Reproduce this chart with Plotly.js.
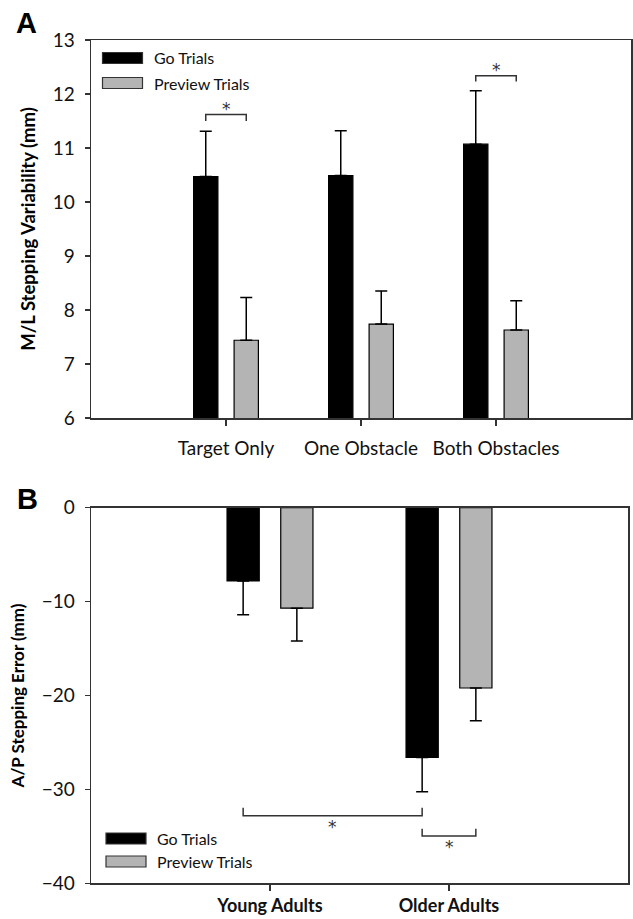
<!DOCTYPE html>
<html>
<head>
<meta charset="utf-8">
<script src="https://cdn.plot.ly/plotly-3.0.1.min.js"></script>
<style>html,body{margin:0;padding:0;background:#fff;}#chart{width:633px;height:919px;}</style>
</head>
<body>
<div id="chart"></div>
<script>
// ---- Data ----
const categoriesA = ['Target Only', 'One Obstacle', 'Both Obstacles'];
const goA = [10.47, 10.49, 11.07];
const goAErr = [0.84, 0.83, 0.99];
const previewA = [7.44, 7.74, 7.63];
const previewAErr = [0.79, 0.61, 0.54];

const categoriesB = ['Young Adults', 'Older Adults'];
const goB = [-7.8, -26.6];
const goBErr = [3.6, 3.65];
const previewB = [-10.7, -19.2];
const previewBErr = [3.5, 3.5];

const seriesNames = ['Go Trials', 'Preview Trials'];
const yTicksA = [6, 7, 8, 9, 10, 11, 12, 13];
const yTicksB = [-40, -30, -20, -10, 0];

// ---- Styling ----
const W = 633, H = 919;
const FONT = 'Lato, "Open Sans", sans-serif';
const BLACK = '#000000', GREY = '#b4b4b4', AXIS = '#333333';
const px = x => x / W;
const py = y => 1 - y / H;
const zeros = n => new Array(n).fill(0);

function barTrace(x, y, up, down, color, name, xa, ya) {
  return {
    type: 'bar', x: x, y: y, name: name, xaxis: xa, yaxis: ya,
    marker: {color: color, line: {color: '#000', width: 1.2}},
    error_y: {type: 'data', symmetric: false, array: up, arrayminus: down,
              color: '#000', thickness: 1.5, width: 6},
    showlegend: false, hoverinfo: 'skip'
  };
}

const data = [
  barTrace(categoriesA, goA, goAErr, zeros(goA.length), BLACK, seriesNames[0], 'x', 'y'),
  barTrace(categoriesA, previewA, previewAErr, zeros(previewA.length), GREY, seriesNames[1], 'x', 'y'),
  barTrace(categoriesB, goB, zeros(goB.length), goBErr, BLACK, seriesNames[0], 'x2', 'y2'),
  barTrace(categoriesB, previewB, zeros(previewB.length), previewBErr, GREY, seriesNames[1], 'x2', 'y2')
];

const axisCommon = {
  showline: true, linecolor: AXIS, linewidth: 1.5, mirror: true,
  ticks: 'outside', ticklen: 6, tickwidth: 1.5, tickcolor: AXIS,
  showgrid: false, zeroline: false, fixedrange: true,
  tickfont: {family: FONT, size: 19, color: '#111'}
};

const layout = {
  width: W, height: H,
  margin: {l: 0, r: 0, t: 0, b: 0},
  paper_bgcolor: '#fff', plot_bgcolor: '#fff',
  barmode: 'group', bargap: 0.4, bargroupgap: 0.4,
  showlegend: false,
  xaxis: Object.assign({}, axisCommon, {
    domain: [px(91), px(631)], anchor: 'y', type: 'category', range: [-1, 3],
    ticklabelstandoff: 7,
    tickfont: {family: FONT, size: 19, color: '#111'}
  }),
  yaxis: Object.assign({}, axisCommon, {
    domain: [py(418), py(40)], anchor: 'x', range: [6, 13],
    tickvals: yTicksA, ticklen: 5, ticklabelstandoff: 6,
    title: {text: 'M/L Stepping Variability (mm)', font: {family: FONT, size: 18.5, color: '#000', weight: 'bold'}, standoff: 12}
  }),
  xaxis2: Object.assign({}, axisCommon, {
    domain: [px(91), px(628)], anchor: 'y2', type: 'category', range: [-1, 2],
    ticklabelstandoff: 0,
    tickfont: {family: FONT, size: 18, color: '#111', weight: 'bold'}
  }),
  yaxis2: Object.assign({}, axisCommon, {
    domain: [py(883.3), py(507.7)], anchor: 'x2', range: [-40, 0],
    tickvals: yTicksB, ticklen: 5, ticklabelstandoff: 6,
    title: {text: 'A/P Stepping Error (mm)', font: {family: FONT, size: 17, color: '#000', weight: 'bold'}, standoff: 12}
  }),
  shapes: [],
  annotations: []
};

function bracket(xa, ya, x0, x1, yLine, yLeg) {
  layout.shapes.push({type: 'path', xref: xa, yref: ya,
    path: `M ${x0} ${yLeg} L ${x0} ${yLine} L ${x1} ${yLine} L ${x1} ${yLeg}`,
    line: {color: '#333', width: 1.5}});
}
function star(xa, ya, x, y, anchor, shift) {
  layout.annotations.push({xref: xa, yref: ya, x: x, y: y, text: '*', showarrow: false,
    yanchor: anchor, yshift: shift, font: {family: '"DejaVu Sans", sans-serif', size: 17, color: '#333'}});
}
// Panel A significance brackets
bracket('x', 'y', -0.15, 0.15, 11.62, 11.5);
star('x', 'y', 0, 11.62, 'bottom', -6);
bracket('x', 'y', 1.85, 2.15, 12.34, 12.23);
star('x', 'y', 2, 12.34, 'bottom', -6);
// Panel B significance brackets
bracket('x2', 'y2', -0.15, 0.85, -32.8, -31.95);
star('x2', 'y2', 0.35, -32.8, 'top', 1);
bracket('x2', 'y2', 0.85, 1.15, -34.97, -34.2);
star('x2', 'y2', 1.0, -34.97, 'top', 1);

// Custom legends (wide swatches as in the reference)
function legend(x0, yGo, yPrev) {
  const sw = 40, sh = 11;
  [[yGo, BLACK, seriesNames[0]], [yPrev, GREY, seriesNames[1]]].forEach(([yc, col, name]) => {
    layout.shapes.push({type: 'rect', xref: 'paper', yref: 'paper',
      x0: px(x0), x1: px(x0 + sw), y0: py(yc + sh / 2), y1: py(yc - sh / 2),
      fillcolor: col, line: {color: '#333', width: 1.2}});
    layout.annotations.push({xref: 'paper', yref: 'paper', x: px(x0 + sw + 9), y: py(yc),
      xanchor: 'left', yanchor: 'middle', text: name, showarrow: false,
      font: {family: FONT, size: 16, color: '#111'}});
  });
}
legend(102.5, 58, 83);
legend(106, 838.5, 861.5);

// Panel letters
[['A', 26, 23], ['B', 27, 499]].forEach(([t, x, y]) => {
  layout.annotations.push({xref: 'paper', yref: 'paper', x: px(x), y: py(y),
    xanchor: 'center', yanchor: 'middle', text: t, showarrow: false,
    font: {family: '"Liberation Sans", Arial, sans-serif', size: 29, color: '#000', weight: 'bold'}});
});

Plotly.newPlot('chart', data, layout, {staticPlot: true, displayModeBar: false});
</script>
</body>
</html>
